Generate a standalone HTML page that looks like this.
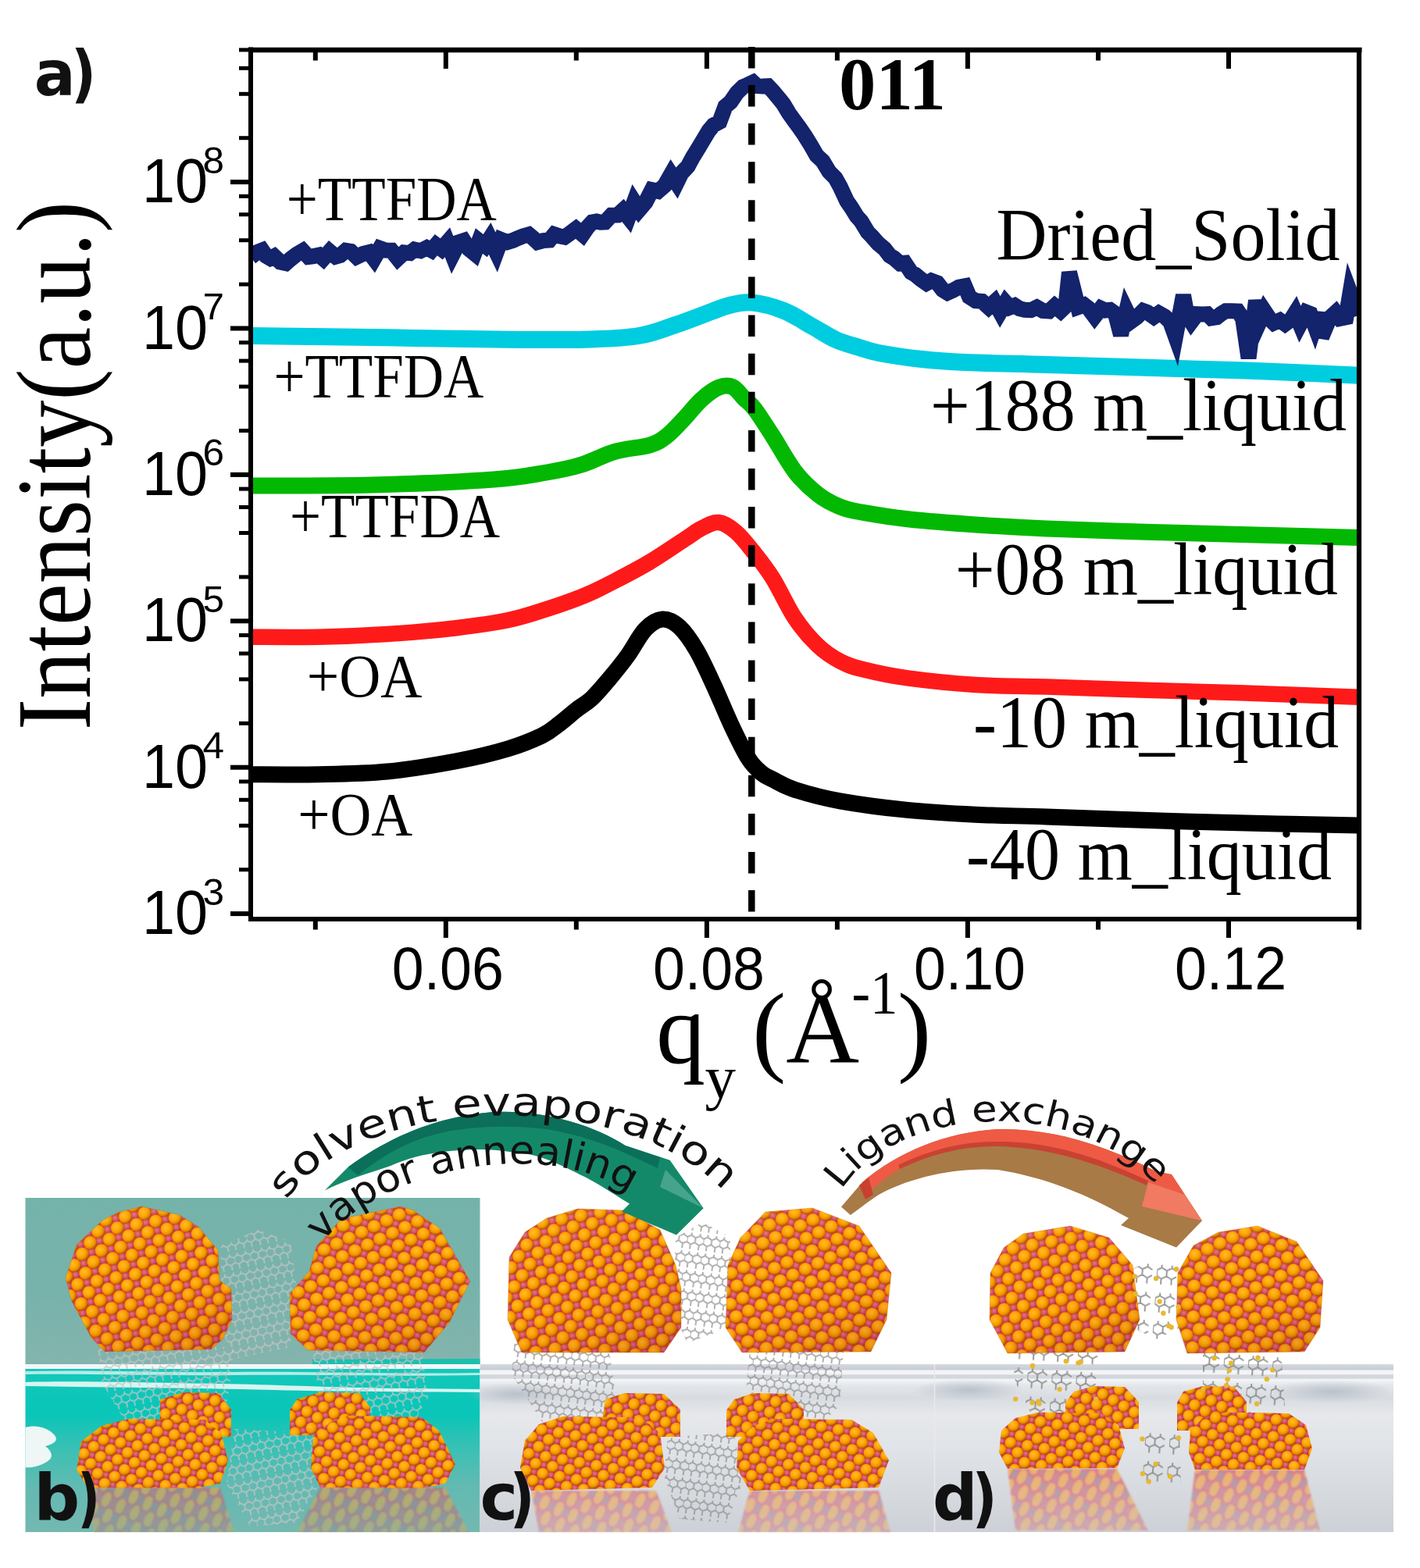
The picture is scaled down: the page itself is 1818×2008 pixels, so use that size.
<!DOCTYPE html>
<html><head><meta charset="utf-8"><title>Figure</title>
<style>html,body{margin:0;padding:0;background:#fff;}svg{display:block;}</style>
</head><body>
<svg width="1818" height="2008" viewBox="0 0 1818 2008">
<rect width="1818" height="2008" fill="#fff"/>
<clipPath id="pc"><rect x="318" y="60" width="1425" height="1120"/></clipPath>
<g clip-path="url(#pc)" fill="none" stroke-linejoin="round" stroke-linecap="butt">
<path d="M320,991.7 C334.7,991.7 378.7,992.3 408,991.7 C437.3,991.1 466.7,990.8 496,988 C525.3,985.2 558.3,979.5 584,974.7 C609.7,969.9 631.7,964.5 650,959 C668.3,953.5 683,947.3 694,942 C705,936.7 708.7,932.5 716,927 C723.3,921.5 731,914.5 738,909 C745,903.5 750.7,901 758,894 C765.3,887 774.3,876.2 782,867 C789.7,857.8 796.7,849.2 804,839 C811.3,828.8 818.7,813.7 826,806 C833.3,798.3 840.7,793.5 848,793 C855.3,792.5 862.7,796.3 870,803 C877.3,809.7 884.7,820.5 892,833 C899.3,845.5 906.7,862.2 914,878 C921.3,893.8 928.7,912.5 936,928 C943.3,943.5 951.5,960.7 958,971 C964.5,981.3 969.8,985.5 975,990 C980.2,994.5 981.8,994.4 989,998 C996.2,1001.6 1003.6,1006.8 1018,1011.4 C1032.4,1016 1051.5,1021.5 1075.5,1025.8 C1099.5,1030.1 1133.1,1034.5 1162,1037.4 C1190.9,1040.3 1219.3,1041.8 1249,1043.2 C1278.7,1044.6 1299.3,1044.7 1340,1046 C1380.7,1047.3 1443.7,1049.8 1493,1051.3 C1542.3,1052.8 1594.8,1054 1636,1054.9 C1677.2,1055.9 1722.7,1056.7 1740,1057" stroke="#000" stroke-width="21"/>
<path d="M320,815.7 C334.7,815.7 378.7,816.3 408,815.7 C437.3,815.1 466.7,813.9 496,812 C525.3,810.1 558.3,807.2 584,804.2 C609.7,801.2 630.7,798.3 650,794.3 C669.3,790.3 683.3,785.4 700,780 C716.7,774.6 735.2,768.2 750,762 C764.8,755.8 775.3,750.1 789,743 C802.7,735.9 817.5,728.3 832,719.6 C846.5,710.9 865,698.1 876,691 C887,683.9 890.7,680.4 898,676.7 C905.3,673 912.7,668.3 920,669 C927.3,669.7 934.7,674.8 942,681 C949.3,687.2 956.2,696.2 964,706 C971.8,715.8 980,725.7 989,740 C998,754.3 1008.3,777.6 1018,792 C1027.7,806.4 1037.4,817.5 1047,826.6 C1056.6,835.7 1066,841.7 1075.5,846.8 C1085,851.9 1089.6,853.4 1104,857 C1118.4,860.6 1137.8,865.1 1162,868.4 C1186.2,871.7 1219.3,875.1 1249,877 C1278.7,878.9 1302.3,878.3 1340,879.5 C1377.7,880.7 1430.3,882.6 1475,884 C1519.7,885.4 1563.8,886.5 1608,888 C1652.2,889.5 1718,891.9 1740,892.7" stroke="#ff1a1a" stroke-width="20.5"/>
<path d="M320,622 C346,621.8 424,622.3 476,621 C528,619.7 594.7,616.7 632,614 C669.3,611.3 681.3,608.1 700,605 C718.7,601.9 729.3,599.8 744,595.3 C758.7,590.8 773.3,582.4 788,578.2 C802.7,574 821,573.4 832,570 C843,566.6 846.7,563.7 854,558 C861.3,552.3 868.7,543.7 876,536 C883.3,528.3 890.7,518.3 898,511.7 C905.3,505.1 913.3,499 920,496.3 C926.7,493.6 932.5,493.2 938,495.6 C943.5,498 948.3,506 953,510.6 C957.7,515.2 960,515.6 966,523.5 C972,531.4 980.3,544.5 989,558 C997.7,571.5 1008.3,591.7 1018,604.2 C1027.7,616.7 1037.4,625.5 1047,633 C1056.6,640.5 1066,645.1 1075.5,649 C1085,652.9 1089.6,653.6 1104,656.2 C1118.4,658.8 1137.8,662.2 1162,664.8 C1186.2,667.4 1219.3,670 1249,672 C1278.7,674 1302.3,675.4 1340,677 C1377.7,678.6 1430.3,680.2 1475,681.5 C1519.7,682.8 1563.8,683.8 1608,685 C1652.2,686.2 1718,688 1740,688.6" stroke="#03b803" stroke-width="21"/>
<path d="M320,430 C346,430.3 424,431.2 476,432 C528,432.8 586.5,434.1 632,434.5 C677.5,434.9 718,435.4 749,434.7 C780,433.9 798.7,433.1 818,430 C837.3,426.9 849.5,421.2 865,416 C880.5,410.8 899.5,403.2 911,399 C922.5,394.8 925.5,392.9 934,391 C942.5,389.1 950.5,386.3 962,387.4 C973.5,388.5 990,392.6 1003,397.7 C1016,402.8 1028.8,411.8 1040,418 C1051.2,424.2 1060,430.5 1070,435 C1080,439.5 1090.8,442.2 1100,445 C1109.2,447.8 1111.7,449.5 1125,452 C1138.3,454.5 1161.7,458 1180,460 C1198.3,462 1208.3,462.8 1235,464 C1261.7,465.2 1300,465.8 1340,467 C1380,468.2 1430.3,469.7 1475,471 C1519.7,472.3 1563.8,473.4 1608,475 C1652.2,476.6 1718,479.8 1740,480.7" stroke="#00cce0" stroke-width="22"/>
<path d="M321,329.4 L329.1,323 L335.6,320.4 L340.7,327.8 L346,330.9 L351.1,328.2 L358.8,335.5 L366,337.1 L372,331.8 L379.8,325.7 L387.6,321.2 L394.9,329 L400.2,328.3 L408.5,326.6 L413.9,331.2 L422,322 L429.8,328.6 L435.6,327 L442.7,320.9 L449.1,321.9 L456.5,329 L464.9,325 L472.5,323 L478.8,331.3 L486.4,318 L493.3,320.5 L501.1,320.7 L509.3,331 L517.4,323.4 L524.8,324.1 L530.7,319.6 L538.4,321.3 L546.3,317.3 L552.4,320.6 L558.3,313.6 L565.3,318.9 L572.8,310.2 L579.2,326.4 L587.5,310.1 L593.6,308.1 L600.3,318.7 L607.4,324.5 L613.4,308.5 L621.2,314.6 L627.1,305.4 L635.6,323.1 L641.6,306.9 L649.5,310.2 L656.8,307.8 L662.7,305.1 L669.5,302.4 L677,300.3 L682.6,305 L688.1,310.2 L695.6,308.1 L703.4,307.6 L709.6,300.2 L716.1,302.3 L722.9,303.7 L729.2,299.3 L737.4,293 L745.9,300.2 L752,291.3 L758.2,284.5 L763.8,283.5 L768.9,284.8 L774.5,284.5 L782.8,275.7 L790.7,275.4 L797.4,269.3 L804.6,278.4 L811.9,258.5 L818.3,268.6 L826.6,258.9 L834.6,243.2 L842.5,244.9 L850.7,237.9 L859.1,223.2 L866.3,234.3 L872.4,221.8 L880.6,213.2 L886.7,201.8 L894.1,189.8 L899.3,181 L907.5,167.4 L913.4,160.3 L921.3,156 L928.5,136.5 L935.5,130.5 L943.6,118.7 L951.2,111.2 L956.8,108.9 L964.1,105.5 L969.1,110.1 L976.1,110.6 L983.3,110.3 L989.6,116.8 L997.7,126.7 L1003,133.3 L1010.2,145.3 L1018,156.1 L1023.5,163.6 L1030.6,173.9 L1038.4,186.6 L1045.5,199 L1053.5,206.6 L1061.3,219.7 L1069.5,228 L1075.8,239.4 L1084.2,257.4 L1090.1,266 L1096.7,276.8 L1102.6,283.5 L1111,297.4 L1116.6,303.1 L1124.2,311.8 L1132.5,318.7 L1139.1,327.4 L1144.4,330.5 L1152.2,337.3 L1158.5,336.7 L1166.5,348.7 L1171.9,351.7 L1179.1,357.7 L1186.3,362.8 L1192.3,359.5 L1200.1,362.4 L1206.9,371.1 L1213.1,375 L1220,371.9 L1227.5,367.8 L1235.2,366.3 L1241,380 L1249.1,385.3 L1257.3,385.9 L1265.7,393.5 L1273.3,386.6 L1280.4,399.5 L1287.4,387.5 L1292.8,393.6 L1299.1,391.1 L1305.2,395.1 L1311.8,396.7 L1319.8,397.2 L1327.4,393.6 L1335.1,397.9 L1343.1,398.5 L1350.3,391.8 L1357.9,398.1 L1364.4,391.9 L1369,348.7 L1380.2,393.3 L1388,390.5 L1393.6,394.8 L1401.4,405.2 L1409.4,394.8 L1415.3,397.5 L1421.1,396.8 L1427.9,401.8 L1435,429 L1442.2,398 L1448.5,411.1 L1455.5,406 L1463.6,398 L1468.8,399.9 L1477.1,405.8 L1483.6,401.1 L1491.2,405.4 L1498.1,411.8 L1505,431 L1515,378 L1519.6,403.1 L1525.2,412.1 L1532.7,402.1 L1539.8,402.4 L1545.6,402.1 L1550.8,407.4 L1557.8,406.3 L1563.6,401.7 L1569.4,398.2 L1576.7,398.2 L1584.7,398.6 L1591.1,407.9 L1598.5,458.6 L1608,385 L1613.2,410.8 L1618.8,398.3 L1625.3,408.1 L1630.8,413.6 L1638.6,410.1 L1645.2,414.8 L1653,409 L1658.3,400.6 L1664.4,415.2 L1672.5,399.8 L1677.6,401.8 L1683.3,417.2 L1688.7,400.5 L1692,431.8 L1702.4,407.1 L1710,400.2 L1715.6,407.9 L1723.3,406.3 L1728.6,374.6 L1739.6,403.8" stroke="#13236c" stroke-width="20" stroke-linejoin="miter" stroke-miterlimit="4"/>
</g>
<line x1="962.3" y1="59.9" x2="962.3" y2="1176" stroke="#000" stroke-width="8.5" stroke-dasharray="27.5 21.6"/>
<g stroke="#000" fill="none">
<line x1="321" y1="60.5" x2="321" y2="1180" stroke-width="6"/>
<line x1="1740" y1="61" x2="1740" y2="1180" stroke-width="6.2"/>
<line x1="318" y1="64" x2="1743.5" y2="64" stroke-width="6.5"/>
<line x1="318" y1="1177" x2="1743" y2="1177" stroke-width="6.2"/>
<line x1="295" y1="1170.1" x2="321" y2="1170.1" stroke-width="6"/>
<line x1="306" y1="1113.7" x2="321" y2="1113.7" stroke-width="5"/>
<line x1="306" y1="1057.3" x2="321" y2="1057.3" stroke-width="5"/>
<line x1="306" y1="1024.3" x2="321" y2="1024.3" stroke-width="5"/>
<line x1="306" y1="1000.9" x2="321" y2="1000.9" stroke-width="5"/>
<line x1="295" y1="982.7" x2="321" y2="982.7" stroke-width="6"/>
<line x1="306" y1="926.3" x2="321" y2="926.3" stroke-width="5"/>
<line x1="306" y1="869.9" x2="321" y2="869.9" stroke-width="5"/>
<line x1="306" y1="836.9" x2="321" y2="836.9" stroke-width="5"/>
<line x1="306" y1="813.5" x2="321" y2="813.5" stroke-width="5"/>
<line x1="295" y1="795.3" x2="321" y2="795.3" stroke-width="6"/>
<line x1="306" y1="738.9" x2="321" y2="738.9" stroke-width="5"/>
<line x1="306" y1="682.5" x2="321" y2="682.5" stroke-width="5"/>
<line x1="306" y1="649.5" x2="321" y2="649.5" stroke-width="5"/>
<line x1="306" y1="626.1" x2="321" y2="626.1" stroke-width="5"/>
<line x1="295" y1="607.9" x2="321" y2="607.9" stroke-width="6"/>
<line x1="306" y1="551.5" x2="321" y2="551.5" stroke-width="5"/>
<line x1="306" y1="495.1" x2="321" y2="495.1" stroke-width="5"/>
<line x1="306" y1="462.1" x2="321" y2="462.1" stroke-width="5"/>
<line x1="306" y1="438.7" x2="321" y2="438.7" stroke-width="5"/>
<line x1="295" y1="420.5" x2="321" y2="420.5" stroke-width="6"/>
<line x1="306" y1="364.1" x2="321" y2="364.1" stroke-width="5"/>
<line x1="306" y1="307.7" x2="321" y2="307.7" stroke-width="5"/>
<line x1="306" y1="274.7" x2="321" y2="274.7" stroke-width="5"/>
<line x1="306" y1="251.3" x2="321" y2="251.3" stroke-width="5"/>
<line x1="295" y1="233.1" x2="321" y2="233.1" stroke-width="6"/>
<line x1="306" y1="176.7" x2="321" y2="176.7" stroke-width="5"/>
<line x1="306" y1="120.3" x2="321" y2="120.3" stroke-width="5"/>
<line x1="306" y1="87.3" x2="321" y2="87.3" stroke-width="5"/>
<line x1="306" y1="63.9" x2="321" y2="63.9" stroke-width="5"/>
<line x1="403.8" y1="66" x2="403.8" y2="77.5" stroke-width="6"/>
<line x1="403.8" y1="1179" x2="403.8" y2="1190.5" stroke-width="6"/>
<line x1="570.8" y1="66" x2="570.8" y2="88" stroke-width="6"/>
<line x1="570.8" y1="1179" x2="570.8" y2="1201" stroke-width="6"/>
<line x1="737.8" y1="66" x2="737.8" y2="77.5" stroke-width="6"/>
<line x1="737.8" y1="1179" x2="737.8" y2="1190.5" stroke-width="6"/>
<line x1="904.9" y1="66" x2="904.9" y2="88" stroke-width="6"/>
<line x1="904.9" y1="1179" x2="904.9" y2="1201" stroke-width="6"/>
<line x1="1071.9" y1="66" x2="1071.9" y2="77.5" stroke-width="6"/>
<line x1="1071.9" y1="1179" x2="1071.9" y2="1190.5" stroke-width="6"/>
<line x1="1238.9" y1="66" x2="1238.9" y2="88" stroke-width="6"/>
<line x1="1238.9" y1="1179" x2="1238.9" y2="1201" stroke-width="6"/>
<line x1="1406" y1="66" x2="1406" y2="77.5" stroke-width="6"/>
<line x1="1406" y1="1179" x2="1406" y2="1190.5" stroke-width="6"/>
<line x1="1573" y1="66" x2="1573" y2="88" stroke-width="6"/>
<line x1="1573" y1="1179" x2="1573" y2="1201" stroke-width="6"/>
<line x1="1740" y1="66" x2="1740" y2="77.5" stroke-width="6"/>
<line x1="1740" y1="1179" x2="1740" y2="1190.5" stroke-width="6"/>
</g>
<g font-family="Liberation Sans, Arial, sans-serif" fill="#000">
<text x="182" y="1196.1" font-size="80" textLength="84" lengthAdjust="spacingAndGlyphs">10</text>
<text x="259.5" y="1158.6" font-size="48.5" textLength="27.5" lengthAdjust="spacingAndGlyphs">3</text>
<text x="182" y="1008.7" font-size="80" textLength="84" lengthAdjust="spacingAndGlyphs">10</text>
<text x="259.5" y="971.2" font-size="48.5" textLength="27.5" lengthAdjust="spacingAndGlyphs">4</text>
<text x="182" y="821.3" font-size="80" textLength="84" lengthAdjust="spacingAndGlyphs">10</text>
<text x="259.5" y="783.8" font-size="48.5" textLength="27.5" lengthAdjust="spacingAndGlyphs">5</text>
<text x="182" y="633.9" font-size="80" textLength="84" lengthAdjust="spacingAndGlyphs">10</text>
<text x="259.5" y="596.4" font-size="48.5" textLength="27.5" lengthAdjust="spacingAndGlyphs">6</text>
<text x="182" y="446.5" font-size="80" textLength="84" lengthAdjust="spacingAndGlyphs">10</text>
<text x="259.5" y="409" font-size="48.5" textLength="27.5" lengthAdjust="spacingAndGlyphs">7</text>
<text x="182" y="259.1" font-size="80" textLength="84" lengthAdjust="spacingAndGlyphs">10</text>
<text x="259.5" y="221.6" font-size="48.5" textLength="27.5" lengthAdjust="spacingAndGlyphs">8</text>
<text x="573.3" y="1267" font-size="77" text-anchor="middle" textLength="143" lengthAdjust="spacingAndGlyphs">0.06</text>
<text x="907.4" y="1267" font-size="77" text-anchor="middle" textLength="143" lengthAdjust="spacingAndGlyphs">0.08</text>
<text x="1241.4" y="1267" font-size="77" text-anchor="middle" textLength="143" lengthAdjust="spacingAndGlyphs">0.10</text>
<text x="1575.5" y="1267" font-size="77" text-anchor="middle" textLength="143" lengthAdjust="spacingAndGlyphs">0.12</text>
</g>
<g font-family="Liberation Serif, Times New Roman, serif" fill="#000">
<text x="366.8" y="281.6" font-size="80" textLength="269" lengthAdjust="spacingAndGlyphs">+TTFDA</text>
<text x="350.4" y="509.4" font-size="80" textLength="269" lengthAdjust="spacingAndGlyphs">+TTFDA</text>
<text x="371" y="688.1" font-size="80" textLength="269" lengthAdjust="spacingAndGlyphs">+TTFDA</text>
<text x="392.8" y="891.5" font-size="78" textLength="147.6" lengthAdjust="spacingAndGlyphs">+OA</text>
<text x="381.2" y="1068.8" font-size="78" textLength="147" lengthAdjust="spacingAndGlyphs">+OA</text>
<text x="1074" y="140.2" font-size="96" textLength="137" lengthAdjust="spacingAndGlyphs" font-weight="bold">011</text>
<text x="1275.4" y="332.7" font-size="96" textLength="440" lengthAdjust="spacingAndGlyphs">Dried_Solid</text>
<text x="1191" y="551.4" font-size="96" textLength="533" lengthAdjust="spacingAndGlyphs">+188 m_liquid</text>
<text x="1222.8" y="760.8" font-size="96" textLength="490" lengthAdjust="spacingAndGlyphs">+08 m_liquid</text>
<text x="1246" y="957.2" font-size="96" textLength="468" lengthAdjust="spacingAndGlyphs">-10 m_liquid</text>
<text x="1237" y="1126.4" font-size="96" textLength="468" lengthAdjust="spacingAndGlyphs">-40 m_liquid</text>
<text x="840" y="1360.5" font-size="130" textLength="63" lengthAdjust="spacingAndGlyphs">q</text>
<text x="902.5" y="1406" font-size="79">y</text>
<text x="963" y="1360.5" font-size="130">(&#197;</text>
<text x="1090.4" y="1297" font-size="78" textLength="59" lengthAdjust="spacingAndGlyphs">-1</text>
<text x="1149" y="1360.5" font-size="130">)</text>
<text transform="translate(114.7,935) rotate(-90)" x="0" y="0" font-size="136" textLength="677" lengthAdjust="spacingAndGlyphs">Intensity(a.u.)</text>
</g>
<g font-family="DejaVu Sans, Liberation Sans, sans-serif" font-weight="bold" font-size="80" fill="#111"><text transform="translate(43.7,121.8) scale(0.98,1)">a</text><text transform="translate(90.9,121.8) scale(0.88,1)">)</text></g>
<defs>
<radialGradient id="gO" cx="0.4" cy="0.36" r="0.62"><stop offset="0" stop-color="#ffc02a"/><stop offset="0.55" stop-color="#ffa400"/><stop offset="0.85" stop-color="#e08600"/><stop offset="1" stop-color="#9a5a00"/></radialGradient>
<radialGradient id="gP" cx="0.42" cy="0.4" r="0.62"><stop offset="0" stop-color="#e87888"/><stop offset="0.6" stop-color="#d04460"/><stop offset="1" stop-color="#903050"/></radialGradient>
<pattern id="pA" width="25" height="25" patternUnits="userSpaceOnUse" patternTransform="rotate(-10)"><rect width="25" height="25" fill="#f52a1c"/><circle cx="12.5" cy="0" r="5.5" fill="url(#gP)"/><circle cx="0" cy="12.5" r="5.5" fill="url(#gP)"/><circle cx="12.5" cy="25" r="5.5" fill="url(#gP)"/><circle cx="25" cy="12.5" r="5.5" fill="url(#gP)"/><circle cx="0" cy="0" r="8.4" fill="url(#gO)"/><circle cx="25" cy="0" r="8.4" fill="url(#gO)"/><circle cx="0" cy="25" r="8.4" fill="url(#gO)"/><circle cx="25" cy="25" r="8.4" fill="url(#gO)"/><circle cx="12.5" cy="12.5" r="8.4" fill="url(#gO)"/></pattern>
<pattern id="pB" width="25" height="25" patternUnits="userSpaceOnUse" patternTransform="rotate(20)"><rect width="25" height="25" fill="#f52a1c"/><circle cx="12.5" cy="0" r="5.5" fill="url(#gP)"/><circle cx="0" cy="12.5" r="5.5" fill="url(#gP)"/><circle cx="12.5" cy="25" r="5.5" fill="url(#gP)"/><circle cx="25" cy="12.5" r="5.5" fill="url(#gP)"/><circle cx="0" cy="0" r="8.4" fill="url(#gO)"/><circle cx="25" cy="0" r="8.4" fill="url(#gO)"/><circle cx="0" cy="25" r="8.4" fill="url(#gO)"/><circle cx="25" cy="25" r="8.4" fill="url(#gO)"/><circle cx="12.5" cy="12.5" r="8.4" fill="url(#gO)"/></pattern>
<pattern id="pC" width="22" height="22" patternUnits="userSpaceOnUse" patternTransform="rotate(-15)"><rect width="22" height="22" fill="#f52a1c"/><circle cx="11" cy="0" r="4.8" fill="url(#gP)"/><circle cx="0" cy="11" r="4.8" fill="url(#gP)"/><circle cx="11" cy="22" r="4.8" fill="url(#gP)"/><circle cx="22" cy="11" r="4.8" fill="url(#gP)"/><circle cx="0" cy="0" r="7.4" fill="url(#gO)"/><circle cx="22" cy="0" r="7.4" fill="url(#gO)"/><circle cx="0" cy="22" r="7.4" fill="url(#gO)"/><circle cx="22" cy="22" r="7.4" fill="url(#gO)"/><circle cx="11" cy="11" r="7.4" fill="url(#gO)"/></pattern>
<pattern id="pD" width="22" height="22" patternUnits="userSpaceOnUse" patternTransform="rotate(10)"><rect width="22" height="22" fill="#f52a1c"/><circle cx="11" cy="0" r="4.8" fill="url(#gP)"/><circle cx="0" cy="11" r="4.8" fill="url(#gP)"/><circle cx="11" cy="22" r="4.8" fill="url(#gP)"/><circle cx="22" cy="11" r="4.8" fill="url(#gP)"/><circle cx="0" cy="0" r="7.4" fill="url(#gO)"/><circle cx="22" cy="0" r="7.4" fill="url(#gO)"/><circle cx="0" cy="22" r="7.4" fill="url(#gO)"/><circle cx="22" cy="22" r="7.4" fill="url(#gO)"/><circle cx="11" cy="11" r="7.4" fill="url(#gO)"/></pattern>
<pattern id="hx" width="21" height="24" patternUnits="userSpaceOnUse" patternTransform="rotate(8)"><path d="M0,6 L5,3 10.5,6 10.5,12 5,15 0,12 Z M10.5,6 L16,3 21,6 M10.5,12 L16,15 21,12 M16,15 L16,21 M5,15 L5,21 M5,3 L5,0 M16,3 L16,0" fill="none" stroke="#8c8c8c" stroke-width="1.7"/></pattern>
<pattern id="hxL" width="21" height="24" patternUnits="userSpaceOnUse" patternTransform="rotate(-12)"><path d="M0,6 L5,3 10.5,6 10.5,12 5,15 0,12 Z M10.5,6 L16,3 21,6 M10.5,12 L16,15 21,12 M16,15 L16,21 M5,15 L5,21 M5,3 L5,0 M16,3 L16,0" fill="none" stroke="#c4c4c4" stroke-width="1.7"/></pattern>
<pattern id="hxS" width="26" height="30" patternUnits="userSpaceOnUse" patternTransform="rotate(4) scale(1.2)"><path d="M0,6 L5,3 10.5,6 10.5,12 5,15 0,12 Z M10.5,6 L16,3 21,6 M10.5,12 L16,15 21,12 M16,15 L16,21 M5,15 L5,21 M5,3 L5,0 M16,3 L16,0" fill="none" stroke="#8a8a8a" stroke-width="1.6"/></pattern>
<pattern id="pR" width="20" height="20" patternUnits="userSpaceOnUse" patternTransform="rotate(25) scale(1,1.8)"><rect width="20" height="20" fill="#d8566a"/><circle cx="5" cy="5" r="5.5" fill="#f2a040"/><circle cx="15" cy="15" r="5.5" fill="#f2a040"/><circle cx="15" cy="5" r="3.5" fill="#a07888"/><circle cx="5" cy="15" r="3.5" fill="#c86878"/></pattern>
<filter id="blr" x="-5%" y="-5%" width="110%" height="110%"><feGaussianBlur stdDeviation="1.2"/></filter>
<linearGradient id="bTop" x1="0" y1="0" x2="0" y2="1"><stop offset="0" stop-color="#74b3aa"/><stop offset="0.6" stop-color="#78b3ab"/><stop offset="1" stop-color="#84b4ae"/></linearGradient>
<linearGradient id="bBot" x1="0" y1="0" x2="0" y2="1"><stop offset="0" stop-color="#14c8ba"/><stop offset="0.28" stop-color="#08c6b8"/><stop offset="0.5" stop-color="#3cc0b4"/><stop offset="0.72" stop-color="#62bab2"/><stop offset="1" stop-color="#74b8b1"/></linearGradient>
<linearGradient id="sBot" x1="0" y1="0" x2="0" y2="1"><stop offset="0" stop-color="#d6dadf"/><stop offset="0.03" stop-color="#c8cdd4"/><stop offset="0.04" stop-color="#f4f6f8"/><stop offset="0.06" stop-color="#f0f2f4"/><stop offset="0.065" stop-color="#d0d5dc"/><stop offset="0.085" stop-color="#d5d9df"/><stop offset="0.09" stop-color="#f4f5f7"/><stop offset="0.13" stop-color="#e2e5e9"/><stop offset="0.2" stop-color="#d8dce1"/><stop offset="0.3" stop-color="#e6e8eb"/><stop offset="0.5" stop-color="#e0e3e7"/><stop offset="0.75" stop-color="#d7dadf"/><stop offset="1" stop-color="#cdd1d7"/></linearGradient>
<radialGradient id="gBand" cx="0.5" cy="0.5" r="0.5"><stop offset="0" stop-color="#b4bcc6" stop-opacity="0.85"/><stop offset="1" stop-color="#b4bcc6" stop-opacity="0"/></radialGradient>
<linearGradient id="fade" x1="0" y1="0" x2="0" y2="1"><stop offset="0" stop-color="#fff" stop-opacity="1"/><stop offset="1" stop-color="#fff" stop-opacity="0.45"/></linearGradient>
<mask id="mfade" maskUnits="userSpaceOnUse" x="0" y="1880" width="1818" height="90"><rect x="0" y="1880" width="1818" height="90" fill="url(#fade)"/></mask>
<linearGradient id="shade" x1="0.2" y1="0" x2="0.6" y2="1"><stop offset="0" stop-color="#ffd040" stop-opacity="0.10"/><stop offset="0.5" stop-color="#ff8000" stop-opacity="0"/><stop offset="1" stop-color="#801020" stop-opacity="0.16"/></linearGradient>
</defs>
<rect x="32.5" y="1534" width="582" height="214" fill="url(#bTop)"/>
<rect x="32.5" y="1752" width="582" height="210" fill="url(#bBot)"/>
<rect x="614.5" y="1747" width="1169.5" height="215" fill="url(#sBot)"/>
<ellipse cx="1705" cy="1782" rx="78" ry="15" fill="url(#gBand)"/>
<ellipse cx="1240" cy="1780" rx="70" ry="14" fill="url(#gBand)"/>
<ellipse cx="660" cy="1785" rx="60" ry="14" fill="url(#gBand)"/>
<line x1="1196.5" y1="1747" x2="1196.5" y2="1962" stroke="#e8eaee" stroke-width="1.5"/>
<path d="M400,1741 L614.5,1740 614.5,1747.5 400,1747.5Z" fill="#1cbfae"/>
<rect x="32.5" y="1747" width="582" height="6" fill="#f2f7f7"/>
<path d="M32.5,1756 C120,1754 200,1758 300,1757 C400,1756 500,1760 614.5,1758 L614.5,1761 C500,1763 400,1760 300,1761 C200,1762 120,1759 32.5,1760Z" fill="#e0f4f2" opacity="0.8"/>
<path d="M32.5,1770 C100,1768 200,1771 280,1772 C350,1773 420,1777 520,1778 L614.5,1779 614.5,1783 C520,1782 420,1782 350,1780 C280,1778 200,1777 100,1776 L32.5,1775Z" fill="#eef8f7" opacity="0.9"/>
<path d="M32.5,1828 C45,1824 62,1828 70,1838 C76,1846 66,1850 58,1852 C66,1858 70,1866 60,1872 C50,1878 40,1880 32.5,1879Z" fill="#eef6f6"/>
<path d="M283,1595 L330,1575 L372,1590 L380,1650 L372,1725 L300,1740 L283,1700Z" fill="url(#hxL)" opacity="0.85"/>
<path d="M125,1725 L300,1725 L292,1790 L270,1840 L215,1850 L160,1820 L130,1770Z" fill="url(#hxL)" opacity="0.85"/>
<path d="M400,1728 L540,1728 L548,1790 L520,1840 L440,1845 L410,1800Z" fill="url(#hxL)" opacity="0.85"/>
<path d="M300,1830 L400,1835 L410,1900 L380,1950 L320,1955 L290,1900Z" fill="url(#hxL)" opacity="0.85"/>
<path d="M865,1585 L900,1565 L935,1585 L935,1700 L880,1720 L862,1680Z" fill="url(#hx)" opacity="0.8"/>
<path d="M660,1700 L780,1730 L790,1800 L760,1850 L700,1830 L655,1760Z" fill="url(#hx)" opacity="0.8"/>
<path d="M960,1728 L1080,1728 L1075,1800 L1040,1835 L980,1830 L955,1780Z" fill="url(#hx)" opacity="0.8"/>
<path d="M855,1840 L940,1835 L950,1900 L930,1950 L870,1945 L850,1890Z" fill="url(#hx)" opacity="0.8"/>
<path d="M1450,1625 L1480,1610 L1512,1625 L1512,1700 L1480,1715 L1450,1700Z" fill="url(#hxS)" opacity="0.9"/>
<path d="M1295,1732 L1410,1732 L1405,1790 L1380,1820 L1320,1810 L1300,1770Z" fill="url(#hxS)" opacity="0.9"/>
<path d="M1540,1732 L1640,1732 L1645,1800 L1620,1830 L1560,1820 L1540,1780Z" fill="url(#hxS)" opacity="0.9"/>
<path d="M1460,1835 L1510,1835 L1512,1900 L1465,1900Z" fill="url(#hxS)" opacity="0.9"/>
<path d="M150,1553 L181,1545 L230,1556 L254,1571 L279,1601 L281,1640 L296,1650 L297,1690 L285,1715 L270,1728 L134,1731 L117,1713 L92,1667 L84,1637 L98,1594 L131,1563Z" fill="url(#pA)" stroke="#c8701a" stroke-width="1" stroke-opacity="0.4"/>
<path d="M150,1553 L181,1545 L230,1556 L254,1571 L279,1601 L281,1640 L296,1650 L297,1690 L285,1715 L270,1728 L134,1731 L117,1713 L92,1667 L84,1637 L98,1594 L131,1563Z" fill="url(#shade)"/>
<path d="M437,1561 L513,1545 L529,1550 L563,1573 L602,1641 L575,1694 L543,1732 L394,1729 L372,1708 L371,1657 L396,1628 L405,1596Z" fill="url(#pB)" stroke="#c8701a" stroke-width="1" stroke-opacity="0.4"/>
<path d="M437,1561 L513,1545 L529,1550 L563,1573 L602,1641 L575,1694 L543,1732 L394,1729 L372,1708 L371,1657 L396,1628 L405,1596Z" fill="url(#shade)"/>
<path d="M700,1560 L740,1548 L800,1550 L845,1575 L865,1620 L872,1650 L872,1700 L850,1732 L668,1732 L650,1690 L652,1610 L672,1578Z" fill="url(#pA)" stroke="#c8701a" stroke-width="1" stroke-opacity="0.4"/>
<path d="M700,1560 L740,1548 L800,1550 L845,1575 L865,1620 L872,1650 L872,1700 L850,1732 L668,1732 L650,1690 L652,1610 L672,1578Z" fill="url(#shade)"/>
<path d="M980,1552 L1040,1547 L1100,1570 L1141,1630 L1135,1690 L1115,1731 L950,1732 L929,1700 L932,1620 L948,1585Z" fill="url(#pB)" stroke="#c8701a" stroke-width="1" stroke-opacity="0.4"/>
<path d="M980,1552 L1040,1547 L1100,1570 L1141,1630 L1135,1690 L1115,1731 L950,1732 L929,1700 L932,1620 L948,1585Z" fill="url(#shade)"/>
<path d="M1310,1580 L1370,1570 L1420,1585 L1450,1620 L1459,1690 L1440,1731 L1290,1733 L1267,1690 L1268,1630 L1285,1598Z" fill="url(#pA)" stroke="#c8701a" stroke-width="1" stroke-opacity="0.4"/>
<path d="M1310,1580 L1370,1570 L1420,1585 L1450,1620 L1459,1690 L1440,1731 L1290,1733 L1267,1690 L1268,1630 L1285,1598Z" fill="url(#shade)"/>
<path d="M1560,1578 L1610,1570 L1660,1590 L1694,1640 L1690,1700 L1670,1731 L1520,1733 L1506,1690 L1508,1630 L1528,1595Z" fill="url(#pB)" stroke="#c8701a" stroke-width="1" stroke-opacity="0.4"/>
<path d="M1560,1578 L1610,1570 L1660,1590 L1694,1640 L1690,1700 L1670,1731 L1520,1733 L1506,1690 L1508,1630 L1528,1595Z" fill="url(#shade)"/>
<path d="M205,1792 L235,1783 L280,1784 L296,1805 L296,1840 L205,1840Z" fill="url(#pC)"/>
<path d="M130,1826 L165,1817 L262,1818 L283,1835 L292,1870 L282,1900 L250,1906 L112,1905 L98,1882 L104,1846Z" fill="url(#pD)"/>
<path d="M380,1792 L410,1783 L460,1784 L474,1802 L474,1838 L371,1838 L371,1806Z" fill="url(#pC)"/>
<path d="M422,1822 L445,1813 L540,1815 L562,1832 L583,1875 L570,1900 L540,1906 L410,1905 L398,1880 L401,1840Z" fill="url(#pD)"/>
<path d="M775,1792 L800,1784 L850,1785 L871,1805 L871,1840 L768,1840Z" fill="url(#pC)"/>
<path d="M690,1824 L720,1814 L820,1815 L845,1835 L851,1880 L835,1905 L680,1909 L666,1880 L672,1845Z" fill="url(#pD)"/>
<path d="M940,1792 L965,1784 L1010,1785 L1029,1805 L1029,1840 L930,1840 L930,1806Z" fill="url(#pC)"/>
<path d="M965,1826 L990,1817 L1090,1818 L1118,1835 L1138,1870 L1125,1905 L960,1909 L943,1880 L945,1845Z" fill="url(#pD)"/>
<path d="M1375,1782 L1400,1775 L1440,1776 L1458,1795 L1458,1830 L1364,1830 L1364,1796Z" fill="url(#pC)"/>
<path d="M1300,1816 L1330,1808.6 L1410,1810 L1432,1825 L1440,1855 L1430,1880 L1290,1881 L1279,1860 L1282,1832Z" fill="url(#pD)"/>
<path d="M1515,1782 L1540,1775 L1580,1776 L1596,1795 L1596,1832 L1507,1832 L1507,1796Z" fill="url(#pC)"/>
<path d="M1540,1816 L1570,1808.6 L1650,1810 L1672,1825 L1680,1855 L1670,1882 L1530,1882 L1522,1860 L1524,1832Z" fill="url(#pD)"/>
<g mask="url(#mfade)" filter="url(#blr)">
<path d="M112,1905 L282,1905 L300,1962 L120,1962Z" fill="url(#pR)" opacity="0.72"/>
<path d="M410,1905 L570,1905 L600,1962 L380,1962Z" fill="url(#pR)" opacity="0.72"/>
<path d="M680,1909 L840,1909 L860,1962 L690,1962Z" fill="url(#pR)" opacity="0.72"/>
<path d="M960,1909 L1125,1909 L1140,1962 L945,1962Z" fill="url(#pR)" opacity="0.72"/>
<path d="M1290,1881 L1430,1881 L1470,1960 L1300,1960Z" fill="url(#pR)" opacity="0.72"/>
<path d="M1530,1882 L1670,1882 L1690,1960 L1520,1960Z" fill="url(#pR)" opacity="0.72"/>
</g>
<g fill="#e8b830"><circle cx="1489.4" cy="1681.8" r="3.2"/><circle cx="1499.7" cy="1699.8" r="3.2"/><circle cx="1496.4" cy="1698" r="3.2"/><circle cx="1453.7" cy="1656.9" r="3.2"/><circle cx="1508.6" cy="1673.4" r="3.2"/><circle cx="1506.1" cy="1625.2" r="3.2"/><circle cx="1480.1" cy="1637.2" r="3.2"/><circle cx="1484.6" cy="1666.7" r="3.2"/><circle cx="1452.8" cy="1634.5" r="3.2"/><circle cx="1329.3" cy="1794.6" r="3.2"/><circle cx="1380.4" cy="1745.4" r="3.2"/><circle cx="1383.7" cy="1744" r="3.2"/><circle cx="1364.8" cy="1743.2" r="3.2"/><circle cx="1300.2" cy="1791.6" r="3.2"/><circle cx="1322" cy="1749" r="3.2"/><circle cx="1403.2" cy="1791.7" r="3.2"/><circle cx="1330.4" cy="1797.5" r="3.2"/><circle cx="1356.6" cy="1779.1" r="3.2"/><circle cx="1321.5" cy="1796.2" r="3.2"/><circle cx="1609.1" cy="1797.8" r="3.2"/><circle cx="1629.4" cy="1754.4" r="3.2"/><circle cx="1576.1" cy="1745.8" r="3.2"/><circle cx="1554.6" cy="1739.2" r="3.2"/><circle cx="1570.1" cy="1774.2" r="3.2"/><circle cx="1540.3" cy="1779.1" r="3.2"/><circle cx="1573.8" cy="1755.1" r="3.2"/><circle cx="1621.9" cy="1766.2" r="3.2"/><circle cx="1571.6" cy="1766.3" r="3.2"/><circle cx="1610.5" cy="1738.7" r="3.2"/><circle cx="1508.8" cy="1841.4" r="3.2"/><circle cx="1498" cy="1890.7" r="3.2"/><circle cx="1462.9" cy="1887.3" r="3.2"/><circle cx="1479.6" cy="1874.7" r="3.2"/><circle cx="1462.4" cy="1842.8" r="3.2"/><circle cx="1470.7" cy="1897.3" r="3.2"/></g>
<path d="M415.7,1524.4 L445.8,1494.4 C500,1455 560,1430 628.8,1424.3 C690,1420 760,1440 800.5,1467 L857.7,1485.8 L900.6,1547.3 L866,1581.6 L796,1551.6 L806,1541.6 C780,1525 760,1512 743,1504.4 C710,1488 690,1478 657.4,1475.8 C620,1470 600,1472 571.6,1474.4 C540,1478 520,1484 500,1493 C470,1503 440,1512 415.7,1524.4Z" fill="#14896a"/>
<path d="M445.8,1494.4 C500,1455 560,1430 628.8,1424.3 C690,1420 760,1440 800.5,1467 L845,1482 L842,1496 C800,1476 760,1456 700,1446 C650,1440 600,1442 560,1452 C520,1462 490,1480 458,1505Z" fill="#0c6f59"/>
<path d="M852,1498 L900.6,1547.3 L845,1520 Z" fill="#4fa892" opacity="0.85"/>
<path d="M1077,1545.5 L1104,1514 C1150,1475 1210,1450 1277.6,1446 C1350,1444 1420,1470 1480,1500 L1500,1504 L1539,1563.3 L1506,1597.5 L1435,1569 L1445,1560 C1400,1535 1350,1510 1277.6,1498 C1220,1494 1160,1510 1125,1530 C1110,1540 1100,1548 1089,1556Z" fill="#a87a46"/>
<path d="M1104,1514 C1150,1475 1210,1450 1277.6,1446 C1350,1444 1420,1470 1480,1500 L1500,1504 L1517,1530 L1470,1514 C1410,1488 1350,1466 1277.6,1464 C1210,1466 1160,1485 1118,1522Z" fill="#ef5a45"/>
<path d="M1470,1514 L1517,1530 L1539,1563.3 L1462,1545 Z" fill="#f07a62"/>
<path d="M1100,1518 L1112,1508 L1118,1530 L1108,1536Z" fill="#c84030"/>
<path d="M1150,1492 C1200,1468 1240,1462 1277.6,1462 C1350,1462 1410,1484 1470,1512 L1468,1518 C1410,1492 1350,1470 1277.6,1468 C1240,1468 1200,1474 1152,1497Z" fill="#c84232"/>
<path id="t1" d="M362,1546 C440,1400 825,1378 945,1548" fill="none"/>
<path id="t2" d="M408,1598 C478,1497 700,1450 812,1532" fill="none"/>
<path id="t3" d="M1070,1536 C1135,1410 1405,1392 1500,1545" fill="none"/>
<g font-family="DejaVu Sans, Liberation Sans, sans-serif" fill="#111" font-size="50">
<text><textPath href="#t1" startOffset="10" textLength="615" lengthAdjust="spacingAndGlyphs">solvent evaporation</textPath></text>
<text><textPath href="#t2" startOffset="8" textLength="428" lengthAdjust="spacingAndGlyphs">vapor annealing</textPath></text>
<text font-size="46"><textPath href="#t3" startOffset="14" textLength="452" lengthAdjust="spacingAndGlyphs">Ligand exchange</textPath></text>
</g>
<g font-family="DejaVu Sans, Liberation Sans, sans-serif" font-weight="bold" fill="#111" font-size="82">
<text transform="translate(43.4,1945.6) scale(1.0,1)">b</text><text transform="translate(99.5,1945.6) scale(0.76,1)">)</text>
<text transform="translate(614.5,1945.6)">c</text><text transform="translate(652.5,1945.6) scale(0.86,1)">)</text>
<text transform="translate(1194,1945.6) scale(0.98,1)">d</text><text transform="translate(1244.5,1945.6) scale(0.86,1)">)</text>
</g>
</svg>
</body></html>
